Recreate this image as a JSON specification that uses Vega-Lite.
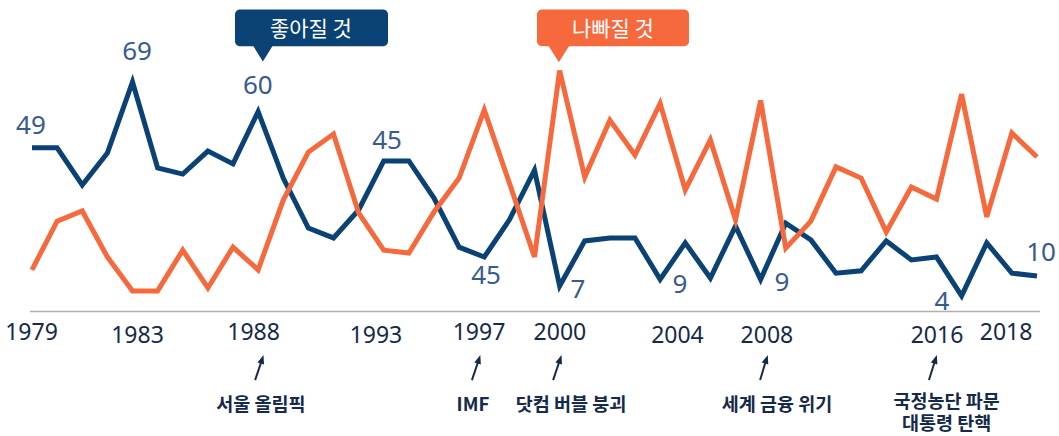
{
  "$schema": "https://vega.github.io/schema/vega-lite/v6.json",
  "width": 1059,
  "height": 436,
  "padding": 0,
  "autosize": {"type": "none"},
  "background": "white",
  "config": {"view": {"stroke": null}},
  "datasets": {
    "series": [
      {"year": 1979, "s": "좋아질 것", "v": 49}, {"year": 1980, "s": "좋아질 것", "v": 49}, {"year": 1981, "s": "좋아질 것", "v": 37.7}, {"year": 1982, "s": "좋아질 것", "v": 47.4}, {"year": 1983, "s": "좋아질 것", "v": 69},
      {"year": 1984, "s": "좋아질 것", "v": 42.9}, {"year": 1985, "s": "좋아질 것", "v": 41}, {"year": 1986, "s": "좋아질 것", "v": 48}, {"year": 1987, "s": "좋아질 것", "v": 44.1}, {"year": 1988, "s": "좋아질 것", "v": 60},
      {"year": 1989, "s": "좋아질 것", "v": 39.8}, {"year": 1990, "s": "좋아질 것", "v": 24.6}, {"year": 1991, "s": "좋아질 것", "v": 21.6}, {"year": 1992, "s": "좋아질 것", "v": 30.1}, {"year": 1993, "s": "좋아질 것", "v": 45},
      {"year": 1994, "s": "좋아질 것", "v": 45}, {"year": 1995, "s": "좋아질 것", "v": 33.7}, {"year": 1996, "s": "좋아질 것", "v": 18.8}, {"year": 1997, "s": "좋아질 것", "v": 15.8}, {"year": 1998, "s": "좋아질 것", "v": 27.1},
      {"year": 1999, "s": "좋아질 것", "v": 42.2}, {"year": 2000, "s": "좋아질 것", "v": 7}, {"year": 2001, "s": "좋아질 것", "v": 20.7}, {"year": 2002, "s": "좋아질 것", "v": 21.6}, {"year": 2003, "s": "좋아질 것", "v": 21.6},
      {"year": 2004, "s": "좋아질 것", "v": 9}, {"year": 2005, "s": "좋아질 것", "v": 20.1}, {"year": 2006, "s": "좋아질 것", "v": 9.4}, {"year": 2007, "s": "좋아질 것", "v": 25.2}, {"year": 2008, "s": "좋아질 것", "v": 9},
      {"year": 2009, "s": "좋아질 것", "v": 26.1}, {"year": 2010, "s": "좋아질 것", "v": 21}, {"year": 2011, "s": "좋아질 것", "v": 10.9}, {"year": 2012, "s": "좋아질 것", "v": 11.6}, {"year": 2013, "s": "좋아질 것", "v": 20.7},
      {"year": 2014, "s": "좋아질 것", "v": 14.9}, {"year": 2015, "s": "좋아질 것", "v": 15.8}, {"year": 2016, "s": "좋아질 것", "v": 4}, {"year": 2017, "s": "좋아질 것", "v": 20.1}, {"year": 2018, "s": "좋아질 것", "v": 10.9},
      {"year": 2019, "s": "좋아질 것", "v": 10},
      {"year": 1979, "s": "나빠질 것", "v": 11.9}, {"year": 1980, "s": "나빠질 것", "v": 26.7}, {"year": 1981, "s": "나빠질 것", "v": 29.8}, {"year": 1982, "s": "나빠질 것", "v": 15.8}, {"year": 1983, "s": "나빠질 것", "v": 5.5},
      {"year": 1984, "s": "나빠질 것", "v": 5.5}, {"year": 1985, "s": "나빠질 것", "v": 17.9}, {"year": 1986, "s": "나빠질 것", "v": 6.4}, {"year": 1987, "s": "나빠질 것", "v": 18.8}, {"year": 1988, "s": "나빠질 것", "v": 11.9},
      {"year": 1989, "s": "나빠질 것", "v": 33.1}, {"year": 1990, "s": "나빠질 것", "v": 47.7}, {"year": 1991, "s": "나빠질 것", "v": 53.2}, {"year": 1992, "s": "나빠질 것", "v": 29.2}, {"year": 1993, "s": "나빠질 것", "v": 17.9},
      {"year": 1994, "s": "나빠질 것", "v": 17}, {"year": 1995, "s": "나빠질 것", "v": 29.5}, {"year": 1996, "s": "나빠질 것", "v": 39.8}, {"year": 1997, "s": "나빠질 것", "v": 60.5}, {"year": 1998, "s": "나빠질 것", "v": 38.3},
      {"year": 1999, "s": "나빠질 것", "v": 15.8}, {"year": 2000, "s": "나빠질 것", "v": 72.5}, {"year": 2001, "s": "나빠질 것", "v": 40.1}, {"year": 2002, "s": "나빠질 것", "v": 57.4}, {"year": 2003, "s": "나빠질 것", "v": 46.8},
      {"year": 2004, "s": "나빠질 것", "v": 62.5}, {"year": 2005, "s": "나빠질 것", "v": 36.2}, {"year": 2006, "s": "나빠질 것", "v": 51.4}, {"year": 2007, "s": "나빠질 것", "v": 27.1}, {"year": 2008, "s": "나빠질 것", "v": 63.4},
      {"year": 2009, "s": "나빠질 것", "v": 18.5}, {"year": 2010, "s": "나빠질 것", "v": 26.7}, {"year": 2011, "s": "나빠질 것", "v": 43.2}, {"year": 2012, "s": "나빠질 것", "v": 39.8}, {"year": 2013, "s": "나빠질 것", "v": 23.4},
      {"year": 2014, "s": "나빠질 것", "v": 37.1}, {"year": 2015, "s": "나빠질 것", "v": 33.4}, {"year": 2016, "s": "나빠질 것", "v": 65.3}, {"year": 2017, "s": "나빠질 것", "v": 28}, {"year": 2018, "s": "나빠질 것", "v": 53.5},
      {"year": 2019, "s": "나빠질 것", "v": 46.2}
    ],
    "valueLabels": [
      {"x": 1978.96, "y": 55.6, "t": "49"}, {"x": 1983.18, "y": 78.1, "t": "69"}, {"x": 1987.99, "y": 67.8, "t": "60"},
      {"x": 1993.13, "y": 51.1, "t": "45"}, {"x": 1997.07, "y": 10.0, "t": "45"}, {"x": 2000.73, "y": 5.8, "t": "7"},
      {"x": 2004.79, "y": 7.3, "t": "9"}, {"x": 2008.85, "y": 7.9, "t": "9"}, {"x": 2015.22, "y": 2.1, "t": "4"},
      {"x": 2019.16, "y": 17.0, "t": "10"}
    ],
    "years": [
      {"x": 1978.98, "y": -7.3, "t": "1979"}, {"x": 1983.2, "y": -8.2, "t": "1983"}, {"x": 1987.82, "y": -7.3, "t": "1988"},
      {"x": 1992.69, "y": -8.2, "t": "1993"}, {"x": 1996.79, "y": -7.3, "t": "1997"}, {"x": 2000.01, "y": -7.3, "t": "2000"},
      {"x": 2004.69, "y": -8.2, "t": "2004"}, {"x": 2008.25, "y": -8.2, "t": "2008"}, {"x": 2015.02, "y": -8.2, "t": "2016"},
      {"x": 2017.77, "y": -7.3, "t": "2018"}
    ],
    "events": [
      {"x": 1988.11, "y": -29.2, "t": "서울 올림픽"}, {"x": 1996.55, "y": -29.2, "t": "IMF"},
      {"x": 2000.45, "y": -29.2, "t": "닷컴 버블 붕괴"}, {"x": 2008.65, "y": -29.2, "t": "세계 금융 위기"},
      {"x": 2015.4, "y": -28.3, "t": "국정농단 파문\n대통령 탄핵"}
    ],
    "arrows": [
      {"x": 1987.88, "y": -21.6, "x2": 1988.15, "y2": -15.5},
      {"x": 1996.51, "y": -21.6, "x2": 1996.78, "y2": -15.5},
      {"x": 1999.74, "y": -21.6, "x2": 2000.01, "y2": -15.5},
      {"x": 2007.98, "y": -21.6, "x2": 2008.22, "y2": -15.5},
      {"x": 2014.70, "y": -21.6, "x2": 2014.95, "y2": -15.5}
    ],
    "boxes": [
      {"x": 1987.08, "x2": 1993.17, "y": 91.0, "y2": 79.9, "px": 1988.19, "py": 77.6, "tx": 1990.1, "ty": 84.8, "s": "좋아질 것"},
      {"x": 1999.1, "x2": 2005.15, "y": 91.0, "y2": 79.9, "px": 1999.97, "py": 77.3, "tx": 2002.12, "ty": 84.8, "s": "나빠질 것"}
    ],
    "baseline": [{"x": 1978.92, "x2": 2019.12, "y": -0.76}]
  },
  "layer": [
    {
      "data": {"name": "baseline"},
      "mark": {"type": "rule", "color": "#b0b0b0", "strokeWidth": 1.5},
      "encoding": {
        "x": {"field": "x", "type": "quantitative", "scale": {"domain": [1979, 2019], "range": [32, 1037], "nice": false, "zero": false}, "axis": null},
        "x2": {"field": "x2"},
        "y": {"field": "y", "type": "quantitative", "scale": {"domain": [0, 90], "range": [309, 12.9], "nice": false, "zero": false}, "axis": null}
      }
    },
    {
      "data": {"name": "series"},
      "mark": {"type": "line", "strokeWidth": 5, "strokeJoin": "miter", "strokeCap": "butt"},
      "encoding": {
        "x": {"field": "year", "type": "quantitative"},
        "y": {"field": "v", "type": "quantitative"},
        "color": {"field": "s", "type": "nominal", "scale": {"domain": ["좋아질 것", "나빠질 것"], "range": ["#0b4275", "#f6693d"]}, "legend": null},
        "order": {"field": "year", "type": "quantitative"},
        "zindex": {"field": "s", "type": "nominal"}
      }
    },
    {
      "data": {"name": "valueLabels"},
      "mark": {"type": "text", "font": "Noto Sans", "fontSize": 26, "color": "#385a8f", "align": "center", "baseline": "middle"},
      "encoding": {
        "x": {"field": "x", "type": "quantitative"},
        "y": {"field": "y", "type": "quantitative"},
        "text": {"field": "t"}
      }
    },
    {
      "data": {"name": "years"},
      "mark": {"type": "text", "font": "Noto Sans", "fontSize": 23, "color": "#15294a", "align": "center", "baseline": "middle"},
      "encoding": {
        "x": {"field": "x", "type": "quantitative"},
        "y": {"field": "y", "type": "quantitative"},
        "text": {"field": "t"}
      }
    },
    {
      "data": {"name": "events"},
      "mark": {"type": "text", "font": "Noto Sans CJK KR", "fontSize": 18.5, "fontWeight": "bold", "color": "#15294a", "align": "center", "baseline": "middle", "lineBreak": "\n", "lineHeight": 21.5},
      "encoding": {
        "x": {"field": "x", "type": "quantitative"},
        "y": {"field": "y", "type": "quantitative"},
        "text": {"field": "t"}
      }
    },
    {
      "data": {"name": "arrows"},
      "mark": {"type": "rule", "color": "#15294a", "strokeWidth": 2},
      "encoding": {
        "x": {"field": "x", "type": "quantitative"},
        "y": {"field": "y", "type": "quantitative"},
        "x2": {"field": "x2"},
        "y2": {"field": "y2"}
      }
    },
    {
      "data": {"name": "arrows"},
      "mark": {"type": "point", "shape": "M0,-1L0.65,0.7L-0.65,0.7Z", "size": 110, "filled": true, "color": "#15294a", "opacity": 1, "angle": 18},
      "encoding": {
        "x": {"field": "x2", "type": "quantitative"},
        "y": {"field": "y2", "type": "quantitative"}
      }
    },
    {
      "data": {"name": "boxes"},
      "mark": {"type": "rect", "cornerRadius": 5},
      "encoding": {
        "x": {"field": "x", "type": "quantitative"},
        "x2": {"field": "x2"},
        "y": {"field": "y", "type": "quantitative"},
        "y2": {"field": "y2"},
        "color": {"field": "s", "type": "nominal", "legend": null}
      }
    },
    {
      "data": {"name": "boxes"},
      "mark": {"type": "point", "shape": "M-1,-0.85L1,-0.85L0,0.75Z", "size": 420, "filled": true, "opacity": 1},
      "encoding": {
        "x": {"field": "px", "type": "quantitative"},
        "y": {"field": "py", "type": "quantitative"},
        "color": {"field": "s", "type": "nominal", "legend": null}
      }
    },
    {
      "data": {"name": "boxes"},
      "mark": {"type": "text", "font": "Noto Sans CJK KR", "fontSize": 21, "color": "white", "align": "center", "baseline": "middle"},
      "encoding": {
        "x": {"field": "tx", "type": "quantitative"},
        "y": {"field": "ty", "type": "quantitative"},
        "text": {"field": "s"}
      }
    }
  ]
}
